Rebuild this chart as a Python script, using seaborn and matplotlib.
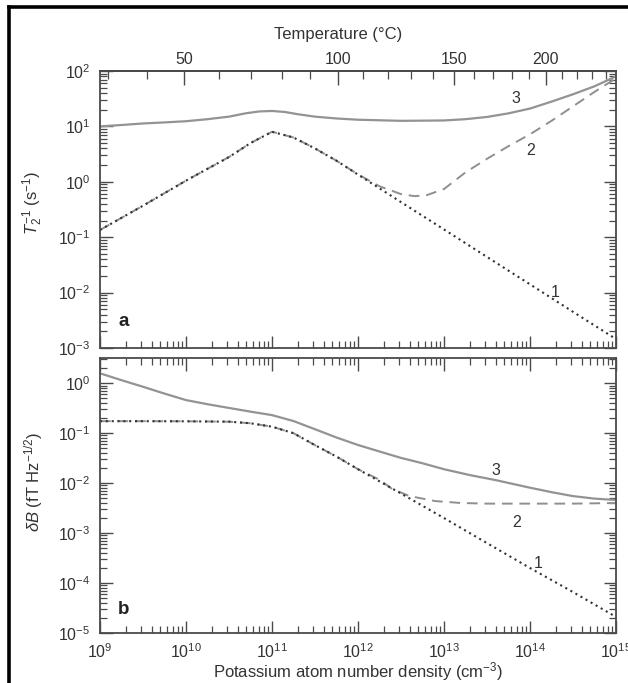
import numpy as np
import pandas as pd
import matplotlib
matplotlib.use("Agg")
import matplotlib.pyplot as plt
import seaborn as sns
from matplotlib.ticker import LogLocator, FixedLocator, NullFormatter, LogFormatterMathtext
from matplotlib.lines import Line2D

# ---------------- data (x = log10 of K density in cm^-3) ----------------
# panel a : T2^-1 (s^-1)
a1_exp = [9.0, 9.5, 10.0, 10.5, 10.75, 11.0, 11.25, 11.5, 11.75, 12.0, 12.5, 13.0, 13.5, 14.0, 14.5, 15.0]
a1_val = [0.135, 0.37, 1.05, 2.8, 5.0, 8.0, 6.3, 4.0, 2.4, 1.35, 0.43, 0.138, 0.044, 0.0141, 0.0045, 0.00145]

a2_exp = [9.0, 9.5, 10.0, 10.5, 10.75, 11.0, 11.25, 11.5, 11.75, 12.0, 12.25, 12.5, 12.66, 12.8, 13.0,
          13.25, 13.5, 13.75, 14.0, 14.25, 14.5, 14.75, 15.0]
a2_val = [0.135, 0.37, 1.05, 2.8, 5.0, 8.0, 6.3, 4.0, 2.4, 1.36, 0.83, 0.60, 0.55, 0.575, 0.74,
          1.48, 2.6, 4.4, 7.2, 12.6, 23.0, 42.0, 74.0]

a3_exp = [9.0, 9.25, 9.5, 9.75, 10.0, 10.25, 10.5, 10.7, 10.85, 11.0, 11.15, 11.3, 11.5, 11.75, 12.0,
          12.5, 13.0, 13.25, 13.5, 13.75, 14.0, 14.25, 14.5, 14.75, 15.0]
a3_val = [10.0, 10.6, 11.3, 11.8, 12.4, 13.5, 15.0, 17.3, 18.6, 19.0, 18.2, 16.6, 15.0, 13.9, 13.2,
          12.6, 12.8, 13.5, 14.8, 17.2, 21.0, 28.0, 38.0, 53.0, 80.0]

# panel b : deltaB (fT Hz^-1/2)
b1_exp = [9.0, 9.5, 10.0, 10.5, 10.75, 11.0, 11.25, 11.5, 11.75, 12.0, 12.5, 13.0, 13.5, 14.0, 14.5, 15.0]
b1_val = [0.174, 0.174, 0.173, 0.17, 0.158, 0.135, 0.10, 0.0575, 0.034, 0.019, 0.0062, 0.002,
          6.3e-4, 2.0e-4, 6.6e-5, 2.1e-5]

b2_exp = [9.0, 9.5, 10.0, 10.5, 10.75, 11.0, 11.25, 11.5, 11.75, 12.0, 12.25, 12.4, 12.6, 12.9, 13.2,
          13.5, 14.0, 14.5, 15.0]
b2_val = [0.174, 0.174, 0.173, 0.17, 0.158, 0.135, 0.10, 0.0575, 0.034, 0.019, 0.0117, 0.0076, 0.0055,
          0.00437, 0.0040, 0.00389, 0.00389, 0.00389, 0.0040]

b3_exp = [9.0, 9.25, 9.5, 9.75, 10.0, 10.25, 10.5, 10.75, 11.0, 11.25, 11.5, 11.75, 12.0, 12.25, 12.5,
          12.75, 13.0, 13.3, 13.6, 14.0, 14.25, 14.5, 14.75, 15.0]
b3_val = [1.58, 1.15, 0.85, 0.62, 0.46, 0.38, 0.32, 0.27, 0.23, 0.175, 0.12, 0.082, 0.058, 0.043, 0.032,
          0.025, 0.019, 0.0145, 0.0115, 0.0081, 0.0066, 0.0055, 0.0049, 0.0046]

# tick values
temp_major = [50, 100, 150, 200]
temp_minor = list(range(30, 250, 10))
x_limits = (1e9, 1e15)
ya_limits = (1e-3, 1e2)
yb_limits = (1e-5, 3.2)

# potassium vapour-density conversion for the temperature axis
VP_A = 26.268
VP_B = 4453.0

# ---------------- style ----------------
sns.set_theme(style="white")
plt.rcParams["font.family"] = ["Liberation Sans", "DejaVu Sans"]
plt.rcParams["mathtext.fontset"] = "custom"
plt.rcParams["mathtext.rm"] = "Liberation Sans"
plt.rcParams["mathtext.it"] = "Liberation Sans:italic"
plt.rcParams["mathtext.bf"] = "Liberation Sans:bold"
plt.rcParams["mathtext.default"] = "regular"

TXT = "#333333"
SPINE = "#4a4a4a"
FS = 11.5

fig = plt.figure(figsize=(6.28, 6.83), dpi=100)
fig.patch.set_facecolor("white")
ax_a = fig.add_axes([100 / 628, 1 - 348 / 683, 516 / 628, 277 / 683])
ax_b = fig.add_axes([100 / 628, 1 - 633 / 683, 516 / 628, 275 / 683])


def draw(ax, exps, vals, **kw):
    df = pd.DataFrame({"n": 10.0 ** np.asarray(exps), "v": vals})
    sns.lineplot(data=df, x="n", y="v", ax=ax, sort=False, estimator=None, **kw)


for ax in (ax_a, ax_b):
    ax.set_xscale("log")
    ax.set_yscale("log")

solid_kw = dict(color="#939393", linewidth=1.6)
dash_kw = dict(color="#8f8f8f", linewidth=1.4, linestyle=(0, (5.5, 3.5)))
dot_kw = dict(color="#333333", linewidth=1.5, linestyle=(0, (1, 1.8)))

draw(ax_a, a3_exp, a3_val, **solid_kw)
draw(ax_a, a2_exp, a2_val, **dash_kw)
draw(ax_a, a1_exp, a1_val, **dot_kw)
draw(ax_b, b3_exp, b3_val, **solid_kw)
draw(ax_b, b2_exp, b2_val, **dash_kw)
draw(ax_b, b1_exp, b1_val, **dot_kw)

for ax, yl in ((ax_a, ya_limits), (ax_b, yb_limits)):
    ax.set_xlim(*x_limits)
    ax.set_ylim(*yl)
    ax.set_facecolor("white")
    for sp in ax.spines.values():
        sp.set_visible(True)
        sp.set_color(SPINE)
        sp.set_linewidth(1.3)
    ax.xaxis.set_major_locator(LogLocator(base=10, numticks=20))
    ax.xaxis.set_minor_locator(LogLocator(base=10, subs=np.arange(2, 10), numticks=20))
    ax.yaxis.set_major_locator(LogLocator(base=10, numticks=20))
    ax.yaxis.set_minor_locator(LogLocator(base=10, subs=np.arange(2, 10), numticks=20))
    ax.xaxis.set_minor_formatter(NullFormatter())
    ax.yaxis.set_minor_formatter(NullFormatter())
    ax.yaxis.set_major_formatter(LogFormatterMathtext())
    ax.xaxis.set_major_formatter(LogFormatterMathtext())
    ax.tick_params(which="both", direction="in", colors=SPINE, labelcolor=TXT,
                   labelsize=FS, left=True, right=True, bottom=True)
    ax.tick_params(which="major", length=9, width=1.0, pad=7)
    ax.tick_params(which="minor", length=5, width=0.9)
    ax.set_xlabel("")
    ax.set_ylabel("")

ax_a.tick_params(which="both", top=False, labelbottom=False)
ax_b.tick_params(which="both", top=True, labeltop=False)

# temperature axis
T_GRID = np.linspace(-10.0, 350.0, 1441)


def t_to_n(tc):
    tk = np.clip(np.asarray(tc, float) + 273.15, 150.0, None)
    return 10.0 ** (VP_A - VP_B / tk - np.log10(tk))


GRID_LOGN = np.log10(t_to_n(T_GRID))


def n_to_t(n):
    ln = np.log10(np.clip(np.asarray(n, float), 1e-30, None))
    return np.interp(ln, GRID_LOGN, T_GRID)


ax_t = ax_a.secondary_xaxis("top", functions=(n_to_t, t_to_n))
ax_t.set_xticks(temp_major)
ax_t.xaxis.set_minor_locator(FixedLocator(temp_minor))
ax_t.xaxis.set_minor_formatter(NullFormatter())
ax_t.set_xticklabels([str(t) for t in temp_major])
ax_t.tick_params(which="both", direction="in", colors=SPINE, labelcolor=TXT, labelsize=FS)
ax_t.tick_params(which="major", length=10, width=1.0, pad=3)
ax_t.tick_params(which="minor", length=6, width=0.9)
ax_t.spines["top"].set_color(SPINE)
ax_t.spines["top"].set_linewidth(1.3)
fig.text(338 / 628, 1 - 35 / 683, "Temperature (°C)", ha="center", va="center",
         fontsize=FS + 0.5, color=TXT)

# axis labels
ax_a.set_ylabel(r"$\mathit{T}_2^{-1}$ (s$^{-1}$)", fontsize=FS + 0.5, color=TXT)
ax_a.yaxis.set_label_coords(-0.107, 0.523)
ax_b.set_ylabel(r"$\mathit{\delta B}$ (fT Hz$^{-1/2}$)", fontsize=FS + 0.5, color=TXT)
ax_b.yaxis.set_label_coords(-0.107, 0.549)
ax_b.set_xlabel("Potassium atom number density (cm$^{-3}$)", fontsize=FS + 0.5, color=TXT)
ax_b.xaxis.set_label_coords(0.5, -0.098)

# curve labels
lab_kw = dict(fontsize=FS, color=TXT, ha="center", va="center")
ax_a.text(10 ** 13.84, 32, "3", **lab_kw)
ax_a.text(10 ** 14.01, 3.7, "2", **lab_kw)
ax_a.text(10 ** 14.29, 0.01, "1", **lab_kw)
ax_b.text(10 ** 13.6, 0.018, "3", **lab_kw)
ax_b.text(10 ** 13.84, 1.66e-3, "2", **lab_kw)
ax_b.text(10 ** 14.09, 2.5e-4, "1", **lab_kw)

ax_a.text(0.045, 0.094, "a", transform=ax_a.transAxes, fontsize=FS + 2, fontweight="bold",
          color="#222222", ha="center", va="center")
ax_b.text(0.045, 0.084, "b", transform=ax_b.transAxes, fontsize=FS + 2, fontweight="bold",
          color="#222222", ha="center", va="center")

# outer frame (left and top edges visible in the crop)
fig.add_artist(Line2D([9 / 628, 9 / 628], [0, 1 - 6.5 / 683], transform=fig.transFigure,
                      color="black", linewidth=2.6, solid_capstyle="projecting"))
fig.add_artist(Line2D([9 / 628, 1.0], [1 - 6.5 / 683, 1 - 6.5 / 683], transform=fig.transFigure,
                      color="black", linewidth=2.6, solid_capstyle="projecting"))

fig.savefig("out.png", dpi=100, facecolor="white")
